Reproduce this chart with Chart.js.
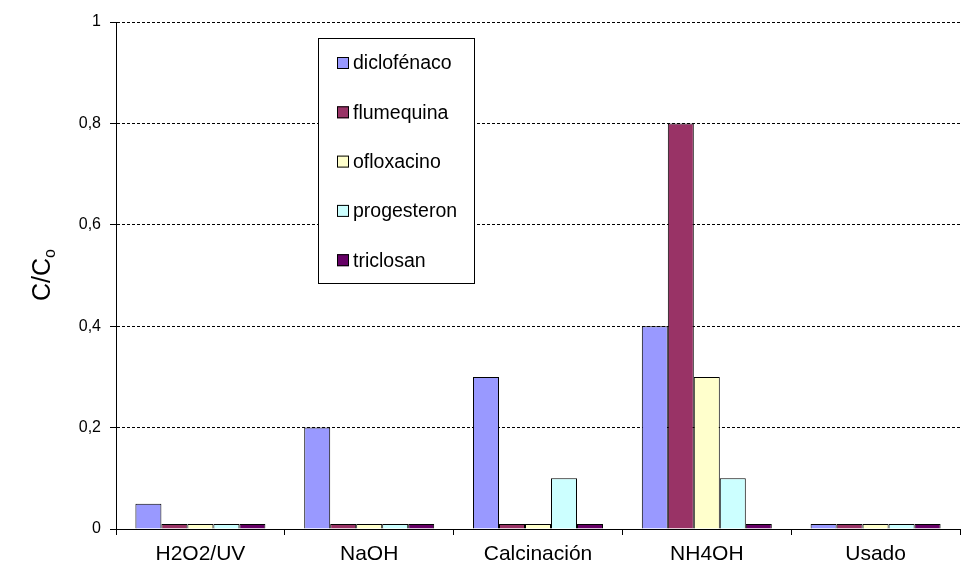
<!DOCTYPE html>
<html>
<head>
<meta charset="utf-8">
<script src="https://cdn.jsdelivr.net/npm/chart.js@4.4.0/dist/chart.umd.min.js"></script>
<style>
  html, body { margin: 0; padding: 0; background: #fff; }
  #wrap { width: 964px; height: 565px; }
</style>
</head>
<body>
<div id="wrap"><canvas id="c" width="964" height="565"></canvas></div>
<script>
// categorías (tratamientos) y series C/Co
var categories = ['H2O2/UV', 'NaOH', 'Calcinación', 'NH4OH', 'Usado'];
var seriesNames = ['diclofénaco', 'flumequina', 'ofloxacino', 'progesteron', 'triclosan'];
var diclofenaco = [0.05, 0.20, 0.30, 0.40, 0.01];
var flumequina  = [0.01, 0.01, 0.01, 0.80, 0.01];
var ofloxacino  = [0.01, 0.01, 0.01, 0.30, 0.01];
var progesteron = [0.01, 0.01, 0.10, 0.10, 0.01];
var triclosan   = [0.01, 0.01, 0.01, 0.01, 0.01];
var yTicks = [0, 0.2, 0.4, 0.6, 0.8, 1];

var seriesValues = [diclofenaco, flumequina, ofloxacino, progesteron, triclosan];
var COLORS = ['#9999FF', '#993366', '#FFFFCC', '#CCFFFF', '#660066'];
var FONT = 'Liberation Sans, Arial, sans-serif';

function fmtTick(v) {
  if (v === 0) return '0';
  if (v === 1) return '1';
  return v.toFixed(1).replace('.', ',');
}

// leyenda dentro del área (recuadro tipo Excel)
var boxLegend = {
  id: 'boxLegend',
  afterDraw: function (chart) {
    var ctx = chart.ctx;
    var x0 = 318, y0 = 38, w = 156, h = 245;
    ctx.save();
    ctx.fillStyle = '#fff';
    ctx.fillRect(x0, y0, w, h);
    ctx.strokeStyle = '#000';
    ctx.lineWidth = 1;
    ctx.strokeRect(x0 + 0.5, y0 + 0.5, w, h);
    ctx.font = '19.5px ' + FONT;
    ctx.textBaseline = 'middle';
    chart.data.datasets.forEach(function (ds, i) {
      var cy = 63 + i * 49.3;
      ctx.fillStyle = ds.backgroundColor;
      ctx.fillRect(337, cy - 6, 12, 12);
      ctx.strokeRect(337.5, cy - 5.5, 11, 11);
      ctx.fillStyle = '#000';
      ctx.fillText(ds.label, 353, cy + 1);
    });
    ctx.restore();
  }
};

// título del eje Y con subíndice
var yTitle = {
  id: 'yTitle',
  afterDraw: function (chart) {
    var ctx = chart.ctx;
    ctx.save();
    ctx.translate(43, 275);
    ctx.rotate(-Math.PI / 2);
    ctx.fillStyle = '#000';
    ctx.textBaseline = 'middle';
    ctx.textAlign = 'left';
    var main = 'C/C';
    ctx.font = '25px ' + FONT;
    var wMain = ctx.measureText(main).width;
    ctx.font = '16px ' + FONT;
    var wSub = ctx.measureText('o').width;
    var start = -(wMain + wSub) / 2;
    ctx.font = '25px ' + FONT;
    ctx.fillText(main, start, 0);
    ctx.font = '16px ' + FONT;
    ctx.fillText('o', start + wMain, 8);
    ctx.restore();
  }
};

var datasets = seriesNames.map(function (name, i) {
  return {
    label: name,
    data: seriesValues[i],
    backgroundColor: COLORS[i],
    borderColor: '#000',
    borderWidth: 1,
    categoryPercentage: 0.77,
    barPercentage: 1.0
  };
});

new Chart(document.getElementById('c').getContext('2d'), {
  type: 'bar',
  data: { labels: categories, datasets: datasets },
  options: {
    responsive: false,
    animation: false,
    layout: { padding: { top: 22, right: 4, left: 0, bottom: 0 } },
    plugins: { legend: { display: false }, tooltip: { enabled: false } },
    scales: {
      x: {
        grid: { display: true, drawOnChartArea: false, offset: true, color: '#000', tickLength: 6 },
        border: { display: true, color: '#000', width: 1 },
        ticks: { color: '#000', font: { family: FONT, size: 21 }, padding: 7, maxRotation: 0 },
        afterFit: function (s) { s.height = 36; }
      },
      y: {
        min: 0, max: 1,
        afterBuildTicks: function (s) { s.ticks = yTicks.map(function (v) { return { value: v }; }); },
        grid: { color: '#000', tickLength: 6, tickColor: '#000', tickBorderDash: [] },
        border: { display: true, color: '#000', width: 1, dash: [3, 2] },
        ticks: { color: '#000', font: { family: FONT, size: 16 }, padding: 9, callback: fmtTick },
        afterFit: function (s) { s.width = 116; }
      }
    }
  },
  plugins: [boxLegend, yTitle]
});
</script>
</body>
</html>
